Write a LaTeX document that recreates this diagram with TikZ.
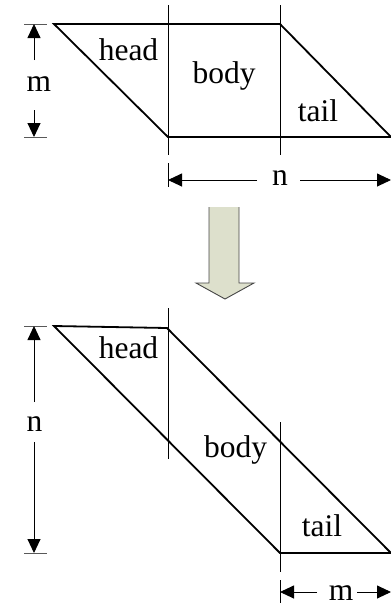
\documentclass[tikz,border=0pt]{standalone}
\usepackage{fontspec}
\setmainfont{Liberation Serif}
\usetikzlibrary{arrows.meta}
\definecolor{arrowfill}{RGB}{221,224,204}
\definecolor{arrowedge}{RGB}{70,70,70}
\tikzset{
  edge/.style={line width=1.8pt, line join=miter},
  guide/.style={line width=0.9pt},
  tick/.style={line width=0.9pt, gray!70!black},
  dim/.style={line width=0.9pt, -{Triangle[length=14pt,width=13pt]}},
  lbl/.style={inner sep=0pt, anchor=base, font=\fontsize{31.5}{32}\selectfont}
}
\begin{document}
\begin{tikzpicture}[x=1pt,y=-1pt]
\useasboundingbox (0,0) rectangle (391,606);
% ---------- top figure ----------
\coordinate (A1) at (54,24);
\coordinate (B1) at (280,24);
\coordinate (C1) at (391,137);
\coordinate (D1) at (168,137);
\draw[edge] (A1) -- (B1) -- (C1) -- (D1) -- cycle;
\draw[guide] (168,5) coordinate (v1a) -- (168,155) coordinate (v1z);
\draw[guide] (280,5) coordinate (v2a) -- (280,155) coordinate (v2z);
\node[lbl] (head1) at (128.5,60) {head};
\node[lbl] (body1) at (224,83) {body};
\node[lbl] (tail1) at (318,121) {tail};
% m dimension
\draw[tick] (24,24) coordinate (mt1) -- (47,24) coordinate (mt2);
\draw[tick] (24,137) coordinate (mb1) -- (47,137) coordinate (mb2);
\node[lbl] (m1) at (39,91) {m};
\coordinate (m1up) at (34,24);
\coordinate (m1dn) at (34,137);
\draw[dim] (34,60) coordinate (m1s) -- (m1up);
\draw[dim] (34,110) coordinate (m1e) -- (m1dn);
% n dimension
\draw[guide] (168,163) coordinate (nt1) -- (168,187) coordinate (nt2);
\draw[guide] (391,163) coordinate (nt3) -- (391,187) coordinate (nt4);
\node[lbl] (n1) at (280,185) {n};
\coordinate (n1l) at (168,180);
\coordinate (n1r) at (391,180);
\draw[dim] (257,180) coordinate (n1s) -- (n1l);
\draw[dim] (300,180) coordinate (n1e) -- (n1r);
% ---------- block arrow ----------
\fill[arrowfill] (209,207) -- (239,207) -- (239,283) -- (254,283) -- (225,299) -- (196,283) -- (209,283) -- cycle;
\draw[arrowedge, line width=0.9pt, line join=miter] (209,207) -- (209,283) -- (196,283) -- (225,299) -- (254,283) -- (239,283) -- (239,207);
% ---------- bottom figure ----------
\coordinate (A2) at (54,326);
\coordinate (B2) at (167,328);
\coordinate (C2) at (391,553);
\coordinate (D2) at (280,553);
\draw[edge] (A2) -- (B2) -- (C2) -- (D2) -- cycle;
\draw[guide] (168,308) coordinate (w1a) -- (168,459) coordinate (w1z);
\draw[guide] (280,422) coordinate (w2a) -- (280,572) coordinate (w2z);
\node[lbl] (head2) at (128.5,358) {head};
\node[lbl] (body2) at (235.5,457) {body};
\node[lbl] (tail2) at (322,536) {tail};
% n dimension
\draw[tick] (24,326) coordinate (nt5) -- (47,326) coordinate (nt6);
\draw[tick] (24,553) coordinate (nt7) -- (47,553) coordinate (nt8);
\node[lbl] (n2) at (34.5,431) {n};
\coordinate (n2up) at (34,326);
\coordinate (n2dn) at (34,553);
\draw[dim] (34,402) coordinate (n2s) -- (n2up);
\draw[dim] (34,442) coordinate (n2e) -- (n2dn);
% m dimension
\draw[guide] (280,580) coordinate (mt5) -- (280,603) coordinate (mt6);
\node[lbl] (m2) at (341,600) {m};
\coordinate (m2l) at (280,592);
\coordinate (m2r) at (391,592);
\draw[dim] (317,592) coordinate (m2s) -- (m2l);
\draw[dim] (357,592) coordinate (m2e) -- (m2r);
\end{tikzpicture}
\end{document}
